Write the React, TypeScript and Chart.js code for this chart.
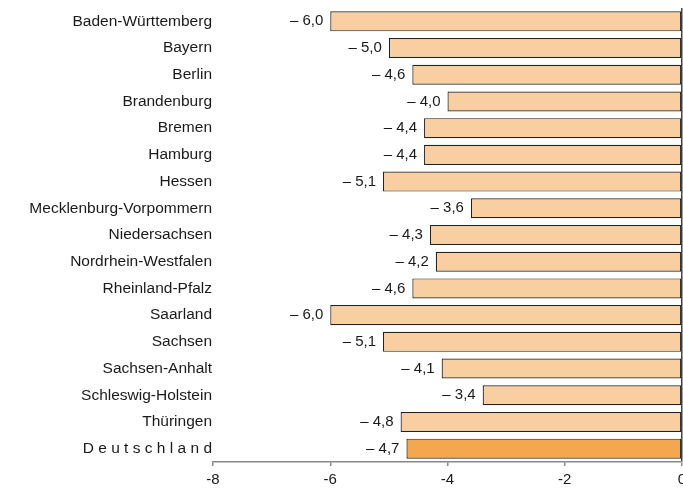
import { useEffect, useRef } from 'react';
import { Chart, registerables } from 'chart.js';

Chart.register(...registerables);

const categories = [
  'Baden-Württemberg',
  'Bayern',
  'Berlin',
  'Brandenburg',
  'Bremen',
  'Hamburg',
  'Hessen',
  'Mecklenburg-Vorpommern',
  'Niedersachsen',
  'Nordrhein-Westfalen',
  'Rheinland-Pfalz',
  'Saarland',
  'Sachsen',
  'Sachsen-Anhalt',
  'Schleswig-Holstein',
  'Thüringen',
  'D e u t s c h l a n d',
];

const values = [-6.0, -5.0, -4.6, -4.0, -4.4, -4.4, -5.1, -3.6, -4.3, -4.2, -4.6, -6.0, -5.1, -4.1, -3.4, -4.8, -4.7];

const xMin = -8;
const xMax = 0;
const xStep = 2;

const FONT = '"Liberation Sans", Arial, sans-serif';
const LIGHT = '#F9CFA1';
const DARK = '#F3A74F';

function fmt(v: number): string {
  return (v < 0 ? '– ' : '') + Math.abs(v).toFixed(1).replace('.', ',');
}

const valueLabels = {
  id: 'valueLabels',
  afterDatasetsDraw(chart: any) {
    const ctx = chart.ctx;
    const meta = chart.getDatasetMeta(0);
    ctx.save();
    ctx.font = `15px ${FONT}`;
    ctx.fillStyle = '#1a1a1a';
    ctx.textAlign = 'right';
    ctx.textBaseline = 'middle';
    meta.data.forEach((bar: any, i: number) => {
      ctx.fillText(fmt(values[i]), bar.x - 7, bar.y);
    });
    ctx.restore();
  },
};

export default function App() {
  const ref = useRef<HTMLCanvasElement | null>(null);

  useEffect(() => {
    document.body.style.margin = '0';
    if (!ref.current) return;
    const chart = new Chart(ref.current, {
      type: 'bar',
      data: {
        labels: categories,
        datasets: [
          {
            data: values,
            backgroundColor: values.map((_, i) => (i === values.length - 1 ? DARK : LIGHT)),
            borderColor: '#222',
            borderWidth: 1.2,
            borderSkipped: false,
            barPercentage: 0.75,
            categoryPercentage: 1,
          },
        ],
      },
      options: {
        indexAxis: 'y',
        animation: false,
        responsive: false,
        maintainAspectRatio: false,
        layout: { padding: { top: 8, right: 1, left: 0, bottom: 0 } },
        plugins: {
          legend: { display: false },
          tooltip: { enabled: false },
        },
        scales: {
          x: {
            type: 'linear',
            min: xMin,
            max: xMax,
            ticks: {
              stepSize: xStep,
              color: '#1a1a1a',
              font: { family: FONT, size: 15 },
              padding: 5,
              maxRotation: 0,
            },
            grid: {
              color: (c: any) => (c.tick && c.tick.value === 0 ? '#444' : 'rgba(0,0,0,0)'),
              lineWidth: 1.5,
              tickColor: '#888',
              tickLength: 4,
            },
            border: { display: true, color: '#888', width: 1.5 },
            afterFit: (s: any) => {
              s.height = 28;
              s.paddingLeft = 0;
              s.paddingRight = 0;
            },
          },
          y: {
            ticks: {
              color: '#1a1a1a',
              font: { family: FONT, size: 15.5 },
              padding: 1,
              autoSkip: false,
            },
            grid: { display: false, drawTicks: false },
            border: { display: false },
            afterFit: (s: any) => {
              s.width = 213;
              s.paddingTop = 0;
              s.paddingBottom = 0;
            },
          },
        },
      },
      plugins: [valueLabels],
    });
    return () => chart.destroy();
  }, []);

  return (
    <div style={{ width: 683, height: 490 }}>
      <canvas ref={ref} width={683} height={490} style={{ display: 'block' }} />
    </div>
  );
}
